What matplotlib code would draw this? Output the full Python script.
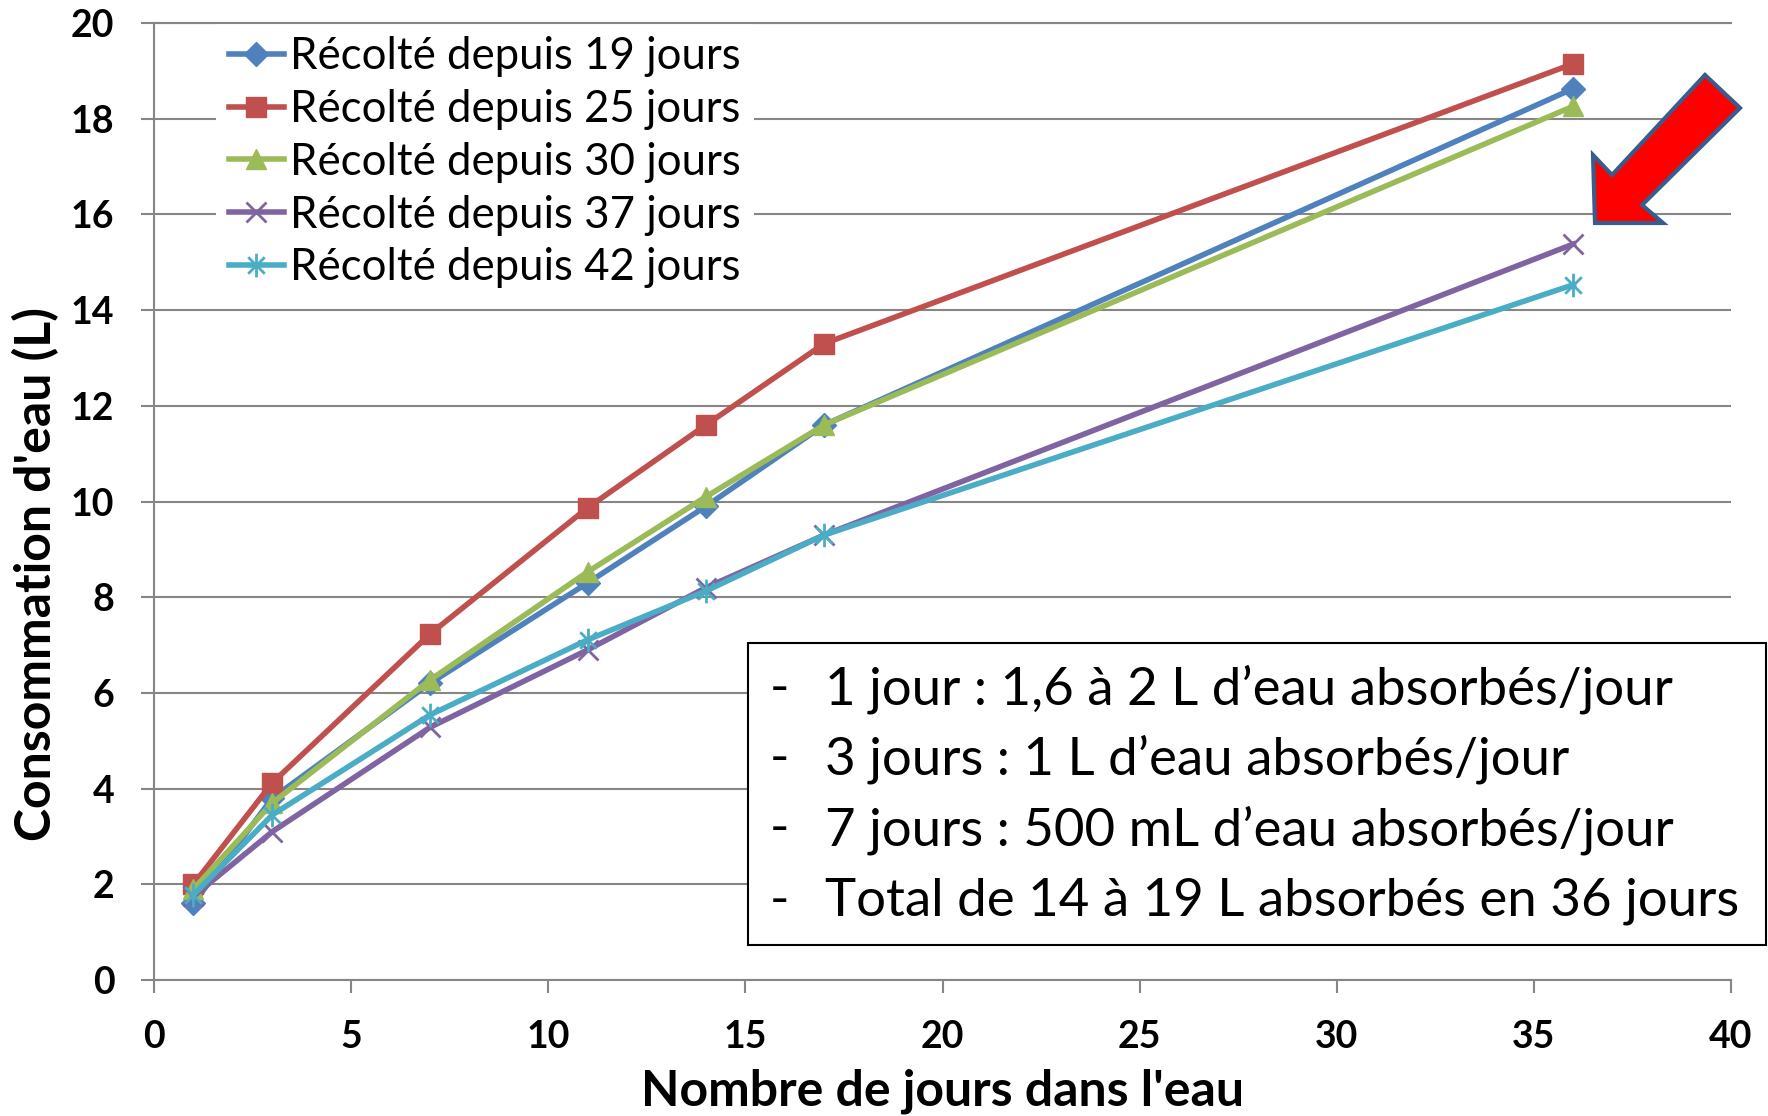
import numpy as np
import matplotlib.pyplot as plt
from matplotlib.path import Path
from matplotlib.patches import Polygon, Rectangle

plt.rcParams['font.family'] = ['Lato', 'DejaVu Sans']

jours = [1, 3, 7, 11, 14, 17, 36]
recolte_19 = [1.6, 3.8, 6.2, 8.3, 9.9, 11.6, 18.63]
recolte_25 = [2.0, 4.12, 7.23, 9.87, 11.6, 13.3, 19.15]
recolte_30 = [1.9, 3.7, 6.27, 8.53, 10.1, 11.6, 18.26]
recolte_37 = [1.75, 3.1, 5.28, 6.9, 8.2, 9.3, 15.38]
recolte_42 = [1.78, 3.45, 5.54, 7.11, 8.13, 9.3, 14.53]
noms = ['Récolté depuis 19 jours', 'Récolté depuis 25 jours',
        'Récolté depuis 30 jours', 'Récolté depuis 37 jours',
        'Récolté depuis 42 jours']
notes = ["1 jour : 1,6 à 2 L d\u2019eau absorbés/jour",
         "3 jours : 1 L d\u2019eau absorbés/jour",
         "7 jours : 500 mL d\u2019eau absorbés/jour",
         "Total de 14 à 19 L absorbés en 36 jours"]

# excel style star: vertical bar + x
etoile = Path([(0, -1), (0, 1), (-0.7, -0.7), (0.7, 0.7), (-0.7, 0.7), (0.7, -0.7)],
              [Path.MOVETO, Path.LINETO, Path.MOVETO, Path.LINETO, Path.MOVETO, Path.LINETO])

couleurs = ['#4F81BD', '#C0504D', '#9BBB59', '#8064A2', '#4BACC6']
marqueurs = ['D', 's', '^', 'x', etoile]
tailles = [12, 15, 15, 14, 17]

W, H = 1768, 1116
fig = plt.figure(figsize=(W / 100, H / 100), dpi=100)
ax = fig.add_axes([154 / W, 1 - 980 / H, (1731 - 154) / W, (980 - 23) / H])

series = [recolte_19, recolte_25, recolte_30, recolte_37, recolte_42]
for i in range(5):
    ax.plot(jours, series[i], color=couleurs[i], lw=4, marker=marqueurs[i],
            ms=tailles[i], mew=2 if i >= 3 else 1, mec=couleurs[i], label=noms[i], zorder=3)

ax.set_xlim(0, 40)
ax.set_ylim(0, 20)
ax.set_xticks(np.arange(0, 41, 5))
ax.set_yticks(np.arange(0, 21, 2))
ax.grid(axis='y', color='#868686', lw=1.5, zorder=0)
ax.set_axisbelow(True)
ax.axhline(20, color='#868686', lw=1.5, zorder=6, clip_on=False)
for s in ['top', 'right']:
    ax.spines[s].set_visible(False)
for s in ['left', 'bottom']:
    ax.spines[s].set_color('#868686')
    ax.spines[s].set_linewidth(1.5)
ax.tick_params(axis='both', direction='out', length=9.5, width=1.5, color='#868686',
               labelsize=27)
ax.tick_params(axis='y', pad=19)
ax.tick_params(axis='x', pad=19)
for lab in ax.get_xticklabels() + ax.get_yticklabels():
    lab.set_fontweight('bold')

ax.set_xlabel("Nombre de jours dans l'eau", fontsize=36, fontweight='bold', va='center')
ax.set_ylabel("Consommation d'eau (L)", fontsize=36, fontweight='bold', va='center')
ax.xaxis.set_label_coords(0.5, -0.116)
ax.yaxis.set_label_coords(-0.075, 0.424)

leg = ax.legend(loc='upper left', bbox_to_anchor=(0.039, 1.0), fontsize=31.5,
                frameon=True, edgecolor='none', facecolor='white', framealpha=1,
                handlelength=1.26, handletextpad=0.14, labelspacing=0.27,
                borderpad=0.3, borderaxespad=0, fancybox=False)
leg.set_zorder(5)

# encadre de texte
fig.patches.append(Rectangle((748 / W, 1 - 945 / H), (1766 - 748) / W, (945 - 643) / H,
                             transform=fig.transFigure, facecolor='white',
                             edgecolor='black', lw=1.5, zorder=6))
ys = [689, 759, 830, 901]
for y, t in zip(ys, notes):
    fig.text(770 / W, 1 - y / H, '-', fontsize=38, va='center', zorder=7)
    fig.text(825 / W, 1 - y / H, t, fontsize=38, va='center', zorder=7)

# fleche rouge
pts = [(1595, 223), (1593, 155), (1612, 175), (1705, 75), (1740, 108),
       (1642, 205), (1663, 223)]
fig.patches.append(Polygon([(x / W, 1 - y / H) for x, y in pts], closed=True,
                           transform=fig.transFigure, facecolor='#FF0000',
                           edgecolor='#385D8A', lw=3, zorder=8))

fig.savefig('out.png', dpi=100)
